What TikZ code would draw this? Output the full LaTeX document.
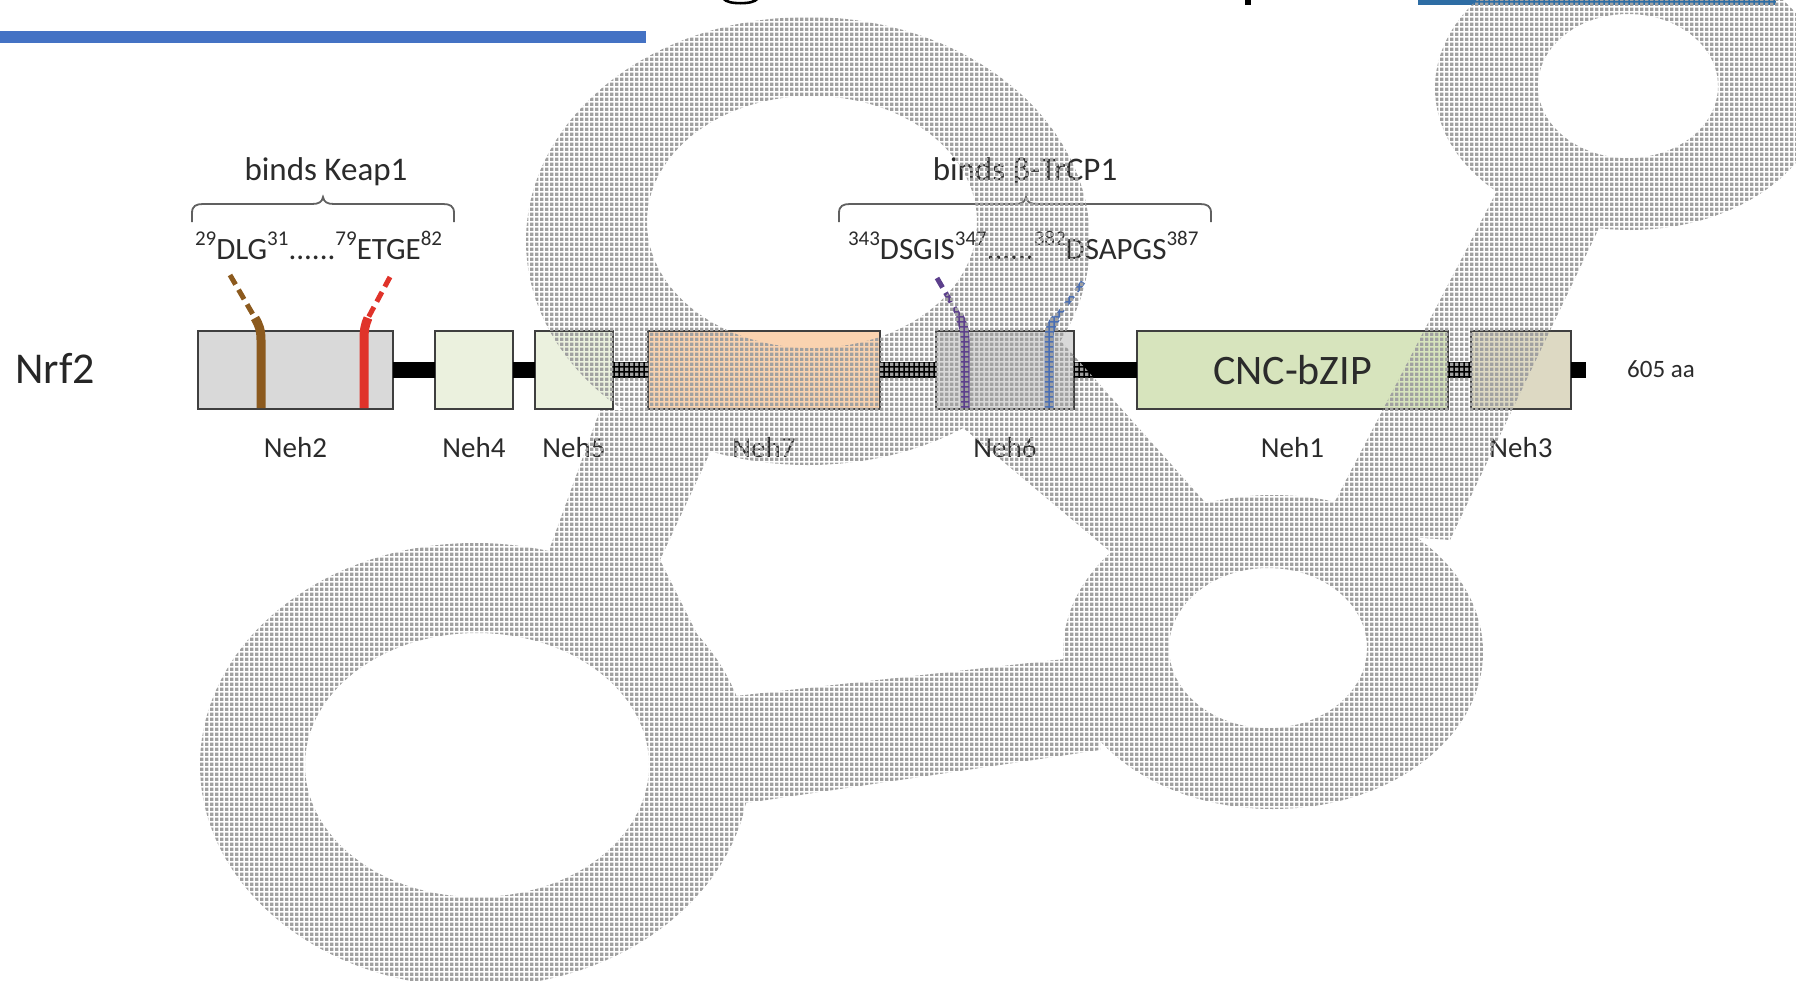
\documentclass[tikz,border=0pt]{standalone}
\usepackage{fontspec}
\setmainfont{Carlito}
\usetikzlibrary{patterns}
\pgfdeclarepatternformonly{netdots}{\pgfqpoint{0bp}{0bp}}{\pgfqpoint{5bp}{5bp}}{\pgfqpoint{5bp}{5bp}}{%
  \pgfpathrectangle{\pgfqpoint{0bp}{0bp}}{\pgfqpoint{4bp}{4bp}}%
  \pgfusepath{fill}%
}
\definecolor{barblue}{HTML}{4472C4}
\definecolor{barbluetwo}{HTML}{2E6DA4}
\definecolor{boxborder}{HTML}{3F3F3F}
\definecolor{txt}{HTML}{2B2B2B}
\definecolor{nehgray}{HTML}{D9D9D9}
\definecolor{nehcream}{HTML}{EBF1DE}
\definecolor{nehpeach}{HTML}{FAD3B0}
\definecolor{nehgreen}{HTML}{D7E4BD}
\definecolor{nehbeige}{HTML}{DDD9C3}
\definecolor{motbrown}{HTML}{8C5A1E}
\definecolor{motred}{HTML}{E0332A}
\definecolor{motpurple}{HTML}{5C3F8C}
\definecolor{motblue}{HTML}{4A6FB5}
\definecolor{patgray}{HTML}{A0A0A0}
\newcommand\fsz[1]{\fontsize{#1bp}{#1bp}\selectfont}
\newcommand\sups[1]{\raisebox{0.42em}{\fontsize{21bp}{21bp}\selectfont #1}}
\begin{document}
\begin{tikzpicture}[x=1bp, y=-1bp,
  every node/.style={inner sep=0bp, outer sep=0bp},
  protbox/.style={draw=boxborder, line width=2.5bp, minimum height=78bp},
  nehlabel/.style={font=\fsz{29}, text=txt},
  backbone/.style={line width=16bp, black},
  braceline/.style={draw=txt!75, line width=1.8bp},
  motdash/.style={line width=5bp, dash pattern=on 11bp off 6bp},
  motbar/.style={line width=9bp},
  netfill/.style={pattern=netdots, pattern color=patgray}]
\useasboundingbox (0,0) rectangle (1796,980);

% top bars and cut-off title descenders
\fill[barblue] (0,31) rectangle (646,43);
\fill[barbluetwo] (1418,0) rectangle (1776,5);
\fill[black] (723,0) .. controls (727,6) and (754,6) .. (758,0) -- (753,0) .. controls (750,2.5) and (731,2.5) .. (728,0) -- cycle;
\fill[black] (1245,0) rectangle (1251,5);

% label
\node[font=\fsz{44}, text=black!85] (nrf2) at (55,368) {Nrf2};

% domains
\node[protbox, fill=nehgray,  minimum width=195bp] (neh2) at (295.5,370) {};
\node[protbox, fill=nehcream, minimum width=78bp]  (neh4) at (474,370) {};
\node[protbox, fill=nehcream, minimum width=78bp]  (neh5) at (574,370) {};
\node[protbox, fill=nehpeach, minimum width=232bp] (neh7) at (764,370) {};
\node[protbox, fill=nehgray,  minimum width=138bp] (neh6) at (1005,370) {};
\node[protbox, fill=nehgreen, minimum width=311bp, font=\fsz{42}, text=txt] (neh1) at (1292.5,370) {CNC-bZIP};
\node[protbox, fill=nehbeige, minimum width=100bp] (neh3) at (1521,370) {};
\coordinate (cend) at (1586,370);

% backbone
\draw[backbone] (neh2.east) -- (neh4.west);
\draw[backbone] (neh4.east) -- (neh5.west);
\draw[backbone] (neh5.east) -- (neh7.west);
\draw[backbone] (neh7.east) -- (neh6.west);
\draw[backbone] (neh6.east) -- (neh1.west);
\draw[backbone] (neh1.east) -- (neh3.west);
\draw[backbone] (neh3.east) -- (cend);

\node[font=\fsz{25}, text=txt] (aa) at (1661,369) {605 aa};

% domain labels
\node[nehlabel] (l2) at (295.5,448) {Neh2};
\node[nehlabel] (l4) at (474,448) {Neh4};
\node[nehlabel] (l5) at (574,448) {Neh5};
\node[nehlabel] (l7) at (764,448) {Neh7};
\node[nehlabel] (l6) at (1005,448) {Neh6};
\node[nehlabel] (l1) at (1292.5,448) {Neh1};
\node[nehlabel] (l3) at (1521,448) {Neh3};

% motif bars
\draw[motbrown, motdash] (230,275) -- (255,318);
\draw[motbrown, motbar] (255,318) .. controls (259,325) and (261,330) .. (261,340) -- (261,408);
\draw[motred, motdash] (390,277) -- (368,318);
\draw[motred, motbar] (368,318) .. controls (365,325) and (364,330) .. (364,340) -- (364,408);
\draw[motpurple, motdash] (937,278) -- (959,316);
\draw[motpurple, motbar] (959,316) .. controls (963,324) and (965,330) .. (965,340) -- (965,408);
\draw[motblue, motdash] (1083,282) -- (1056,318);
\draw[motblue, motbar] (1056,318) .. controls (1051,325) and (1049,330) .. (1049,340) -- (1049,408);

% braces and texts
\node[font=\fsz{33}, text=txt] (bk) at (326,172) {binds Keap1};
\node[font=\fsz{33}, text=txt] (bt) at (1025,172) {binds β-TrCP1};
\draw[braceline] (192,222) -- (192,213) .. controls (192,206) and (196,204) .. (203,204) -- (312,204) .. controls (319,204) and (322,202) .. (323,197) .. controls (324,202) and (327,204) .. (334,204) -- (443,204) .. controls (450,204) and (454,206) .. (454,213) -- (454,222);
\draw[braceline] (839,222) -- (839,213) .. controls (839,206) and (843,204) .. (850,204) -- (1015,204) .. controls (1022,204) and (1025,202) .. (1026,197) .. controls (1027,202) and (1030,204) .. (1037,204) -- (1200,204) .. controls (1207,204) and (1211,206) .. (1211,213) -- (1211,222);
\node[anchor=base west, font=\fsz{31}, text=txt] (m1) at (195,259) {\sups{29}DLG\sups{31}......\sups{79}ETGE\sups{82}};
\node[anchor=base west, font=\fsz{31}, text=txt] (m2) at (848,259) {\sups{343}DSGIS\sups{347}......\sups{382}DSAPGS\sups{387}};

% dotted overlay network: one path (union), holes cut by an even-odd clip
\begin{scope}[even odd rule]
\clip (-10,-10) rectangle (1806,990)
  (812,222) ellipse (165 and 126)
  (477,765) ellipse (172 and 132)
  (1268,648) ellipse (99 and 80)
  (1628,86) ellipse (90 and 72);
\begin{scope}[nonzero rule]
\path[netfill]
  (808,241) ellipse (282 and 224)
  (475,765) ellipse (275 and 222)
  (1273,652) ellipse (210 and 157)
  (1630,88) ellipse (195 and 142)
  (600,410) -- (730,410) -- (660,560) -- (700,640) -- (560,640) -- (540,575) -- cycle
  (700,700) -- (1100,655) -- (1100,750) -- (700,810) -- cycle
  (930,400) -- (1060,340) -- (1230,530) -- (1120,560) -- cycle
  (1500,185) -- (1610,205) -- (1450,540) -- (1320,530) -- cycle;
\end{scope}
\end{scope}
\end{tikzpicture}
\end{document}
